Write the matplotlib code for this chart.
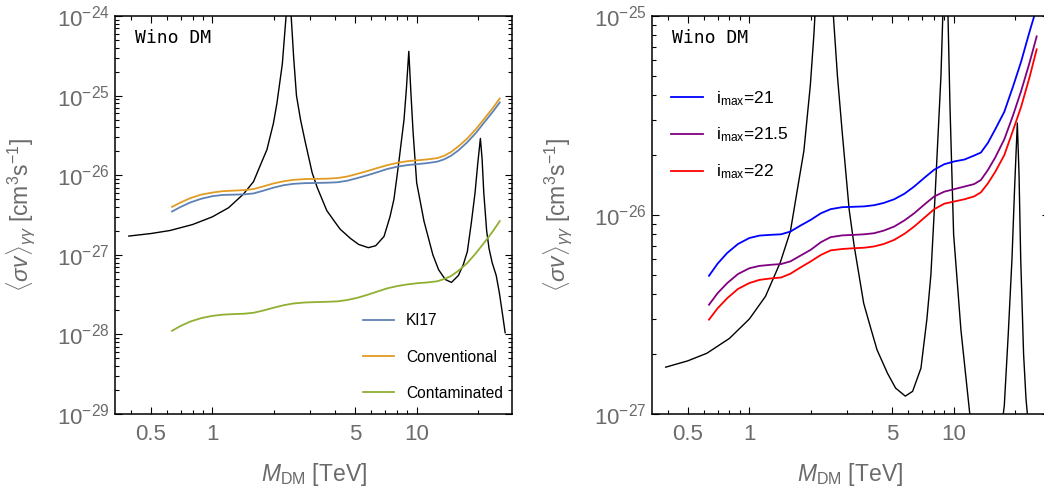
import matplotlib
matplotlib.use('Agg')
import matplotlib.pyplot as plt
from matplotlib.ticker import FixedLocator, FixedFormatter, LogLocator, NullFormatter

# Fontes parecidas com o estilo do Mathematica
plt.rcParams['font.family'] = ['Liberation Sans', 'DejaVu Sans']
plt.rcParams['mathtext.fontset'] = 'custom'
plt.rcParams['mathtext.rm'] = 'Liberation Sans'
plt.rcParams['mathtext.it'] = 'Liberation Sans:italic'
plt.rcParams['mathtext.bf'] = 'Liberation Sans:bold'

# Curva preta (secao de choque teorica do wino), comum aos dois paineis
m_wino = [0.39, 0.5, 0.62, 0.8, 1.0, 1.2, 1.42, 1.59, 1.71, 1.85, 1.99, 2.07, 2.2,
          2.295, 2.37, 2.43, 2.5, 2.58, 2.7, 2.85, 3.08, 3.26, 3.63, 3.93, 4.22,
          4.75, 5.2, 5.8, 6.3, 6.92, 7.4, 7.74, 8.13, 8.67, 8.9, 9.15, 9.35, 9.6,
          10.0, 10.86, 12.0, 12.8, 13.8, 14.8, 16.0, 16.9, 17.7, 18.5, 19.3, 19.9,
          20.5, 20.9, 21.3, 22.0, 22.6, 23.4, 24.5, 25.4, 26.3, 27.1]
sv_wino = [1.72e-27, 1.85e-27, 2.02e-27, 2.4e-27, 3.0e-27, 3.9e-27, 5.8e-27, 8.3e-27,
           1.3e-26, 2.1e-26, 4.5e-26, 8.0e-26, 2.5e-25,
           1.0e-24, 3.0e-24, 1.0e-24, 3.0e-25, 1.0e-25, 5.0e-26, 2.6e-26, 1.07e-26,
           7.0e-27, 3.6e-27, 2.7e-27, 2.1e-27,
           1.6e-27, 1.35e-27, 1.23e-27, 1.3e-27, 1.7e-27, 3.0e-27, 5.0e-27, 1.3e-26,
           5.0e-26, 1.2e-25, 3.6e-25, 1.2e-25, 3.5e-26,
           8.0e-27, 2.64e-27, 1.0e-27, 6.5e-28, 4.9e-28, 4.5e-28, 5.5e-28, 7.5e-28,
           1.1e-27, 2.5e-27, 6.0e-27, 1.4e-26,
           2.9e-26, 1.6e-26, 6.0e-27, 2.0e-27, 1.2e-27, 8.0e-28, 5.5e-28, 3.3e-28,
           1.8e-28, 1.05e-28]

# Massas onde as curvas coloridas foram lidas
m_curvas = [0.635, 0.7, 0.78, 0.88, 1.0, 1.12, 1.27, 1.43, 1.59, 1.78, 2.0, 2.24,
            2.5, 2.85, 3.26, 3.65, 4.08, 4.55, 5.12, 5.75, 6.41, 7.2, 8.04, 9.0,
            10.1, 11.3, 12.6, 13.6, 14.7, 16.0, 17.7, 19.5, 21.4, 23.5, 25.5]

# Painel esquerdo: limites
ki17 = [3.5e-27, 4.0e-27, 4.55e-27, 5.05e-27, 5.45e-27, 5.65e-27, 5.7e-27, 5.75e-27,
        5.9e-27, 6.4e-27, 7.0e-27, 7.5e-27, 7.8e-27, 7.95e-27, 8.0e-27, 8.05e-27,
        8.15e-27, 8.5e-27, 9.2e-27, 1.0e-26, 1.09e-26, 1.2e-26, 1.28e-26, 1.34e-26,
        1.38e-26, 1.42e-26, 1.48e-26, 1.58e-26, 1.75e-26, 2.05e-26, 2.6e-26,
        3.4e-26, 4.6e-26, 6.2e-26, 8.2e-26]
conventional = [4.0e-27, 4.55e-27, 5.15e-27, 5.7e-27, 6.05e-27, 6.3e-27, 6.4e-27,
                6.5e-27, 6.7e-27, 7.25e-27, 7.9e-27, 8.4e-27, 8.75e-27, 8.95e-27,
                9.0e-27, 9.05e-27, 9.2e-27, 9.6e-27, 1.04e-26, 1.13e-26, 1.23e-26,
                1.34e-26, 1.43e-26, 1.5e-26, 1.54e-26, 1.58e-26, 1.64e-26, 1.75e-26,
                1.95e-26, 2.3e-26, 2.9e-26, 3.8e-26, 5.1e-26, 6.9e-26, 9.2e-26]
contaminated = [1.11e-28, 1.28e-28, 1.45e-28, 1.6e-28, 1.71e-28, 1.77e-28, 1.8e-28,
                1.82e-28, 1.87e-28, 2.0e-28, 2.17e-28, 2.33e-28, 2.45e-28, 2.52e-28,
                2.55e-28, 2.57e-28, 2.6e-28, 2.7e-28, 2.88e-28, 3.15e-28, 3.45e-28,
                3.8e-28, 4.05e-28, 4.25e-28, 4.4e-28, 4.5e-28, 4.65e-28, 4.95e-28,
                5.4e-28, 6.3e-28, 7.9e-28, 1.05e-27, 1.42e-27, 1.95e-27, 2.65e-27]

# Painel direito: variacao de i_max
imax_21 = [4.95e-27, 5.7e-27, 6.45e-27, 7.15e-27, 7.66e-27, 7.88e-27, 7.95e-27,
           8.0e-27, 8.26e-27, 8.85e-27, 9.46e-27, 1.02e-26, 1.07e-26, 1.095e-26,
           1.1e-26, 1.105e-26, 1.12e-26, 1.15e-26, 1.2e-26, 1.28e-26, 1.39e-26,
           1.54e-26, 1.69e-26, 1.8e-26, 1.86e-26, 1.9e-26, 1.99e-26, 2.06e-26,
           2.3e-26, 2.7e-26, 3.3e-26, 4.4e-26, 5.9e-26, 8.3e-26, 1.1e-25]
imax_215 = [3.54e-27, 4.05e-27, 4.55e-27, 5.05e-27, 5.4e-27, 5.55e-27, 5.62e-27,
            5.67e-27, 5.85e-27, 6.25e-27, 6.69e-27, 7.3e-27, 7.74e-27, 7.9e-27,
            7.95e-27, 8.0e-27, 8.1e-27, 8.35e-27, 8.75e-27, 9.4e-27, 1.02e-26,
            1.13e-26, 1.24e-26, 1.31e-26, 1.35e-26, 1.39e-26, 1.43e-26, 1.5e-26,
            1.68e-26, 1.95e-26, 2.4e-26, 3.15e-26, 4.2e-26, 5.8e-26, 7.9e-26]
imax_22 = [2.98e-27, 3.4e-27, 3.82e-27, 4.25e-27, 4.55e-27, 4.72e-27, 4.8e-27,
           4.85e-27, 5.07e-27, 5.45e-27, 5.85e-27, 6.3e-27, 6.64e-27, 6.75e-27,
           6.81e-27, 6.85e-27, 6.95e-27, 7.15e-27, 7.5e-27, 8.05e-27, 8.75e-27,
           9.7e-27, 1.07e-26, 1.14e-26, 1.17e-26, 1.2e-26, 1.24e-26, 1.3e-26,
           1.44e-26, 1.65e-26, 2.0e-26, 2.65e-26, 3.5e-26, 4.9e-26, 6.8e-26]

rotulos_esq = ['KI17', 'Conventional', 'Contaminated']
cores_esq = ['#5E81B5', '#E19C24', '#8FB032']
rotulos_dir = [r'$\mathregular{i_{max}}$=21', r'$\mathregular{i_{max}}$=21.5',
               r'$\mathregular{i_{max}}$=22']
cores_dir = ['#0000FF', '#800080', '#FF0000']

x_maiores = [0.5, 1, 5, 10]
x_rotulos = ['0.5', '1', '5', '10']
x_menores = [0.4, 0.6, 0.7, 0.8, 0.9, 2, 3, 4, 6, 7, 8, 9, 20, 30]

cinza = '#6b6b6b'


def estilo(ax, ylim):
    ax.set_xscale('log')
    ax.set_yscale('log')
    ax.set_xlim(0.334, 29.3)
    ax.set_ylim(*ylim)
    ax.xaxis.set_major_locator(FixedLocator(x_maiores))
    ax.xaxis.set_major_formatter(FixedFormatter(x_rotulos))
    ax.xaxis.set_minor_locator(FixedLocator(x_menores))
    ax.xaxis.set_minor_formatter(NullFormatter())
    # so as decadas dentro dos limites
    decadas = [10.0 ** k for k in range(-29, -23)
               if ylim[0] <= 10.0 ** k <= ylim[1] * 1.001]
    ax.yaxis.set_major_locator(FixedLocator(decadas))
    ax.yaxis.set_minor_locator(LogLocator(base=10, subs=range(2, 10), numticks=20))
    ax.yaxis.set_minor_formatter(NullFormatter())
    ax.tick_params(which='both', direction='in', top=True, right=True,
                   colors='black', labelcolor=cinza, width=0.8)
    ax.tick_params(which='major', length=5)
    ax.tick_params(which='minor', length=2.8)
    ax.tick_params(axis='x', labelsize=16, pad=7)
    ax.tick_params(axis='y', labelsize=16, pad=4)
    for s in ax.spines.values():
        s.set_linewidth(1.1)
    ax.set_xlabel(r'$M_{\mathrm{DM}}$ [TeV]', fontsize=16.5, color=cinza)
    ax.set_ylabel(r'$\langle\sigma v\rangle_{\gamma\gamma}$ [cm$^3$s$^{-1}$]',
                  fontsize=16.5, color=cinza)
    ax.xaxis.set_label_coords(0.5, -0.118)
    ax.yaxis.set_label_coords(-0.196, 0.5)
    ax.text(0.05, 0.945, 'Wino DM', transform=ax.transAxes, fontsize=13,
            family='DejaVu Sans Mono', va='center', ha='left', color='black')


fig = plt.figure(figsize=(10.44, 4.88), dpi=100)

# Painel esquerdo
ax1 = fig.add_axes([0.1102, 0.1516, 0.3803, 0.8156])
ax1.plot(m_wino, sv_wino, color='black', lw=1.0)
for serie, rot, cor in zip([ki17, conventional, contaminated], rotulos_esq, cores_esq):
    ax1.plot(m_curvas, serie, color=cor, lw=1.3, label=rot)
estilo(ax1, (1e-29, 1e-24))
ax1.legend(loc='upper left', bbox_to_anchor=(0.625, 0.253), frameon=False,
           fontsize=11.2, borderpad=0, borderaxespad=0, handlelength=2.0,
           handletextpad=0.75, labelspacing=1.37)

# Painel direito (corta na borda direita, como no original)
ax2 = fig.add_axes([0.6245, 0.1516, 0.3803, 0.8156])
ax2.plot(m_wino, sv_wino, color='black', lw=1.0)
for serie, rot, cor in zip([imax_21, imax_215, imax_22], rotulos_dir, cores_dir):
    ax2.plot(m_curvas, serie, color=cor, lw=1.3, label=rot)
estilo(ax2, (1e-27, 1e-25))
ax2.legend(loc='upper left', bbox_to_anchor=(0.048, 0.817), frameon=False,
           fontsize=12.5, borderpad=0, borderaxespad=0, handlelength=1.85,
           handletextpad=0.72, labelspacing=1.05)

fig.savefig('out.png', dpi=100)
